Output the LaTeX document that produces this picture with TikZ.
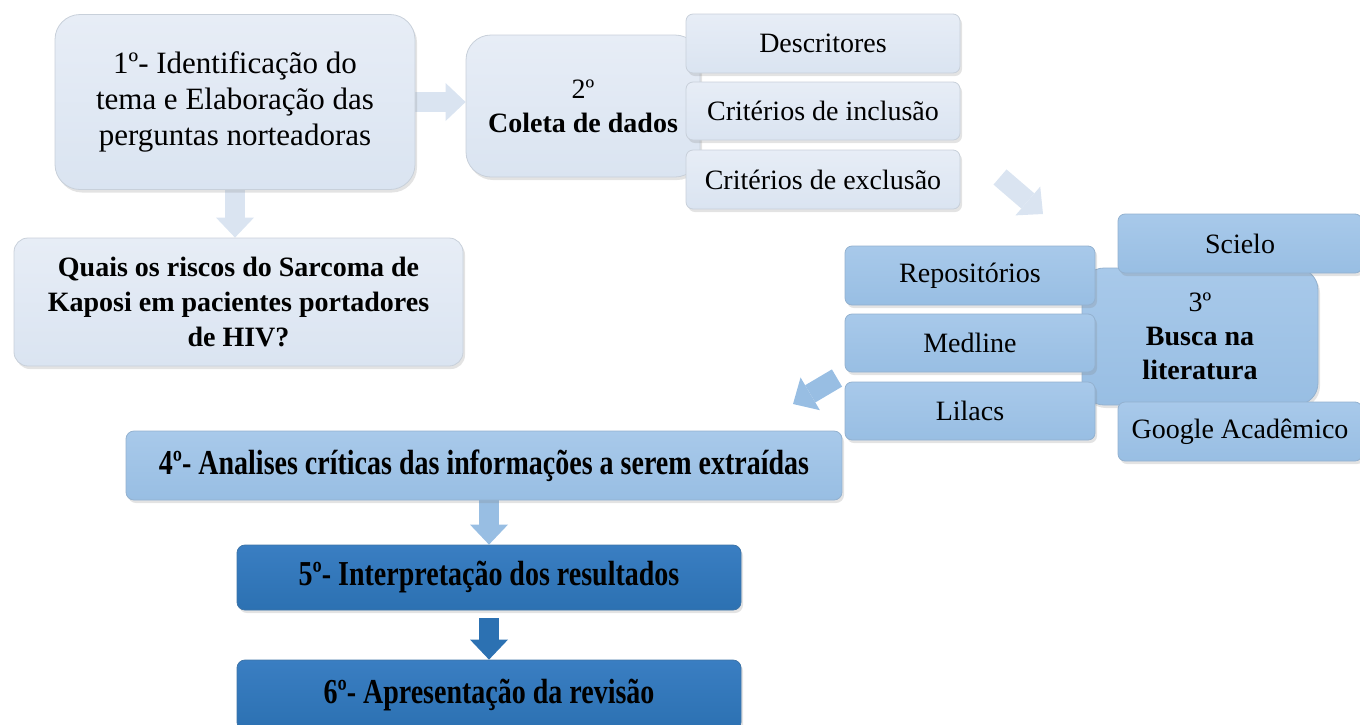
\documentclass[tikz,border=0pt]{standalone}
\usepackage{fontspec}
\setmainfont{Liberation Serif}
\newfontfamily\condfont[FakeStretch=0.8]{Liberation Serif}
\usepackage{tikz}
\usetikzlibrary{arrows.meta}
\usetikzlibrary{shadows}
\pgfdeclarelayer{edgelayer}
\pgfdeclarelayer{nodelayer}
\pgfsetlayers{edgelayer,nodelayer,main}
\definecolor{lightblue}{RGB}{218,228,241}
\definecolor{lighttop}{RGB}{231,237,246}
\definecolor{midblue}{RGB}{152,190,227}
\definecolor{midtop}{RGB}{168,201,234}
\definecolor{darkblue}{RGB}{44,113,178}
\definecolor{darktop}{RGB}{58,126,194}
\tikzstyle{none}=[inner sep=0pt]
\tikzstyle{box}=[style=none, rectangle, align=center, draw, line width=0.8pt, drop shadow={shadow xshift=2pt, shadow yshift=-3pt, opacity=0.22}, font=\fontsize{28}{34}\selectfont]
\tikzstyle{lightbox}=[box, draw=lightblue!80!gray, top color=lighttop, bottom color=lightblue]
\tikzstyle{midbox}=[box, draw=midblue!80!gray, top color=midtop, bottom color=midblue]
\tikzstyle{darkbox}=[box, draw=darkblue!80!gray, top color=darktop, bottom color=darkblue]
\tikzstyle{stepfont}=[font=\condfont\bfseries\fontsize{35}{40}\selectfont]
\tikzstyle{blockarrow}=[line width=20pt, -{Triangle[length=20pt 0, width=38pt 0, line width=0pt 0]}]

\begin{document}
\begin{tikzpicture}[x=1pt, y=-1pt]
	\useasboundingbox (0,0) rectangle (1360,724);
	\begin{pgfonlayer}{nodelayer}
		\node [lightbox, rounded corners=25pt, minimum width=360pt, minimum height=175pt, font=\fontsize{31}{36}\selectfont] (0) at (235,102) {1º- Identificação do\\tema e Elaboração das\\perguntas norteadoras};
		\node [lightbox, rounded corners=14pt, minimum width=449pt, minimum height=128pt, font=\bfseries\fontsize{28}{35}\selectfont] (1) at (238.5,302) {Quais os riscos do Sarcoma de\\Kaposi em pacientes portadores\\de HIV?};
		\node [lightbox, rounded corners=25pt, minimum width=234pt, minimum height=142pt] (2) at (583,106) {2º\\\textbf{Coleta de dados}};
		\node [lightbox, rounded corners=7pt, minimum width=274pt, minimum height=59pt] (3) at (823,43.5) {Descritores};
		\node [lightbox, rounded corners=7pt, minimum width=274pt, minimum height=58pt] (4) at (823,111) {Critérios de inclusão};
		\node [lightbox, rounded corners=7pt, minimum width=274pt, minimum height=59pt] (5) at (823,179.5) {Critérios de exclusão};
		\node [midbox, rounded corners=22pt, minimum width=236pt, minimum height=137pt] (6) at (1200,336.5) {3º\\\textbf{Busca na}\\\textbf{literatura}};
		\node [midbox, rounded corners=7pt, minimum width=244pt, minimum height=59pt] (7) at (1240,243.5) {Scielo};
		\node [midbox, rounded corners=7pt, minimum width=244pt, minimum height=59pt] (8) at (1240,431.5) {Google Acadêmico};
		\node [midbox, rounded corners=7pt, minimum width=250pt, minimum height=59pt] (9) at (970,275.5) {Repositórios};
		\node [midbox, rounded corners=7pt, minimum width=250pt, minimum height=58pt] (10) at (970,343) {Medline};
		\node [midbox, rounded corners=7pt, minimum width=250pt, minimum height=58pt] (11) at (970,411) {Lilacs};
		\node [midbox, stepfont, rounded corners=8pt, minimum width=716pt, minimum height=69pt] (12) at (484,465.5) {4º- Analises críticas das informações a serem extraídas};
		\node [darkbox, stepfont, rounded corners=8pt, minimum width=504pt, minimum height=65pt] (13) at (489,577.5) {5º- Interpretação dos resultados};
		\node [darkbox, stepfont, rounded corners=8pt, minimum width=504pt, minimum height=70pt] (14) at (489,695) {6º- Apresentação da revisão};
		\coordinate (15) at (1000,177);
		\coordinate (16) at (1043,214);
		\coordinate (17) at (837,378);
		\coordinate (18) at (793,404);
	\end{pgfonlayer}
	\begin{pgfonlayer}{edgelayer}
		\draw [blockarrow, draw=lightblue] (0.south) to (0.south |- 1.north);
		\draw [blockarrow, draw=lightblue] (0.east) to (0.east -| 2.west);
		\draw [blockarrow, draw=lightblue] (15) to (16);
		\draw [blockarrow, draw=midblue] (17) to (18);
		\draw [blockarrow, draw=midblue] (13.north |- 12.south) to (13.north);
		\draw [blockarrow, draw=darkblue, shorten <=8pt] (13.south) to (14.north);
	\end{pgfonlayer}
\end{tikzpicture}
\end{document}
